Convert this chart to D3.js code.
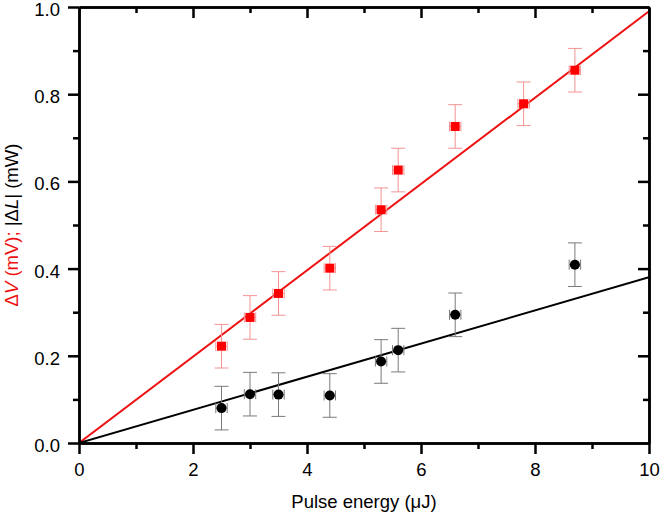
<!DOCTYPE html>
<html>
<head>
<meta charset="utf-8">
<script src="https://cdn.jsdelivr.net/npm/d3@7"></script>
<style>
  html, body { margin: 0; padding: 0; background: #fff; }
  svg { display: block; font-family: "Liberation Sans", Arial, Helvetica, sans-serif; }
</style>
</head>
<body>
<svg id="chart" width="660" height="513"></svg>
<script>
// ---- data ----
const pulseEnergy = [2.5, 3.0, 3.5, 4.4, 5.3, 5.6, 6.6, 7.8, 8.7];
const deltaV = [0.222, 0.288, 0.343, 0.401, 0.535, 0.626, 0.726, 0.778, 0.855];
const deltaVErr = [0.05, 0.05, 0.05, 0.05, 0.05, 0.05, 0.05, 0.05, 0.05];
const pulseEnergyL = [2.5, 3.0, 3.5, 4.4, 5.3, 5.6, 6.6, 8.7];
const deltaL = [0.080, 0.112, 0.111, 0.109, 0.187, 0.213, 0.294, 0.409];
const deltaLErr = [0.05, 0.05, 0.05, 0.05, 0.05, 0.05, 0.05, 0.05];
const energyErr = 0.1;
const fitX = [0, 10];
const fitV = [0, 0.99];
const fitL = [0, 0.38];
const xTicks = [0, 2, 4, 6, 8, 10];
const xMinorTicks = [1, 3, 5, 7, 9];
const yTicks = [0, 0.2, 0.4, 0.6, 0.8, 1.0];
const yMinorTicks = [0.1, 0.3, 0.5, 0.7, 0.9];

// ---- layout ----
const svg = d3.select("#chart");
const mLeft = 79, mRight = 649, mTop = 7, mBottom = 443;
const x = d3.scaleLinear().domain([0, 10]).range([mLeft, mRight]);
const y = d3.scaleLinear().domain([0, 1]).range([mBottom, mTop]);

const RED = "#ee1111";
const RED_ERR = "#f39393";
const GRAY_ERR = "#7a7a7a";
const FS = 18.5;

// clip
svg.append("defs").append("clipPath").attr("id", "clip")
  .append("rect").attr("x", mLeft).attr("y", mTop).attr("width", mRight - mLeft).attr("height", mBottom - mTop);

const plot = svg.append("g").attr("clip-path", "url(#clip)");

// fit lines
const line = d3.line().x(d => x(d[0])).y(d => y(d[1]));
plot.append("path").datum(fitX.map((v, i) => [v, fitV[i]]))
  .attr("d", line).attr("stroke", RED).attr("stroke-width", 2).attr("fill", "none");
plot.append("path").datum(fitX.map((v, i) => [v, fitL[i]]))
  .attr("d", line).attr("stroke", "#000").attr("stroke-width", 2).attr("fill", "none");

// error bars
function errorBars(xs, ys, es, color) {
  const g = svg.append("g").attr("stroke", color).attr("stroke-width", 1).attr("fill", "none");
  xs.forEach((xv, i) => {
    const cx = x(xv), cy = y(ys[i]);
    const y1 = y(ys[i] + es[i]), y2 = y(ys[i] - es[i]);
    const x1 = x(xv - energyErr), x2 = x(xv + energyErr);
    g.append("line").attr("x1", cx).attr("x2", cx).attr("y1", y1).attr("y2", y2);
    g.append("line").attr("x1", cx - 7).attr("x2", cx + 7).attr("y1", y1).attr("y2", y1);
    g.append("line").attr("x1", cx - 7).attr("x2", cx + 7).attr("y1", y2).attr("y2", y2);
    g.append("line").attr("x1", x1).attr("x2", x2).attr("y1", cy).attr("y2", cy);
    g.append("line").attr("x1", x1).attr("x2", x1).attr("y1", cy - 5).attr("y2", cy + 5);
    g.append("line").attr("x1", x2).attr("x2", x2).attr("y1", cy - 5).attr("y2", cy + 5);
  });
}
errorBars(pulseEnergy, deltaV, deltaVErr, RED_ERR);
errorBars(pulseEnergyL, deltaL, deltaLErr, GRAY_ERR);

// markers
svg.append("g").selectAll("rect").data(pulseEnergy).join("rect")
  .attr("x", (d) => x(d) - 4.5).attr("y", (d, i) => y(deltaV[i]) - 4.5)
  .attr("width", 9).attr("height", 9).attr("fill", "#ff0000");
svg.append("g").selectAll("circle").data(pulseEnergyL).join("circle")
  .attr("cx", d => x(d)).attr("cy", (d, i) => y(deltaL[i])).attr("r", 5).attr("fill", "#000");

// axes
function styleAxis(g) {
  g.select(".domain").attr("stroke", "#000").attr("stroke-width", 2.5);
  g.selectAll(".tick line").attr("stroke", "#000").attr("stroke-width", 2.5);
  g.selectAll(".tick text").attr("fill", "#000").attr("font-size", FS)
    .attr("font-family", "'Liberation Sans', Arial, sans-serif");
}
const MAJ = 11, MIN = 6;

// bottom
svg.append("g").attr("transform", `translate(0,${mBottom})`)
  .call(d3.axisBottom(x).tickValues(xMinorTicks).tickSize(MIN).tickFormat("").tickSizeOuter(0))
  .call(styleAxis);
svg.append("g").attr("transform", `translate(0,${mBottom})`)
  .call(d3.axisBottom(x).tickValues(xTicks).tickSize(MAJ).tickPadding(9).tickFormat(d3.format("d")).tickSizeOuter(0))
  .call(styleAxis);
// top (inward)
svg.append("g").attr("transform", `translate(0,${mTop})`)
  .call(d3.axisBottom(x).tickValues(xMinorTicks).tickSize(MIN).tickFormat("").tickSizeOuter(0))
  .call(styleAxis);
svg.append("g").attr("transform", `translate(0,${mTop})`)
  .call(d3.axisBottom(x).tickValues(xTicks.slice(1, -1)).tickSize(MAJ).tickFormat("").tickSizeOuter(0))
  .call(styleAxis);
// left
svg.append("g").attr("transform", `translate(${mLeft},0)`)
  .call(d3.axisLeft(y).tickValues(yMinorTicks).tickSize(MIN).tickFormat("").tickSizeOuter(0))
  .call(styleAxis);
svg.append("g").attr("transform", `translate(${mLeft},0)`)
  .call(d3.axisLeft(y).tickValues(yTicks).tickSize(MAJ).tickPadding(8).tickFormat(d3.format(".1f")).tickSizeOuter(0))
  .call(styleAxis)
  .call(g => g.selectAll(".tick text").attr("dy", "0.46em"));
// right (inward)
svg.append("g").attr("transform", `translate(${mRight},0)`)
  .call(d3.axisLeft(y).tickValues(yMinorTicks).tickSize(MIN).tickFormat("").tickSizeOuter(0))
  .call(styleAxis);
svg.append("g").attr("transform", `translate(${mRight},0)`)
  .call(d3.axisLeft(y).tickValues(yTicks.slice(1, -1)).tickSize(MAJ).tickFormat("").tickSizeOuter(0))
  .call(styleAxis);

// axis titles
svg.append("text").attr("x", (mLeft + mRight) / 2).attr("y", 508)
  .attr("text-anchor", "middle").attr("font-size", FS).attr("fill", "#000")
  .text("Pulse energy (\u03bcJ)");

const yt = svg.append("text")
  .attr("transform", `translate(18,${(mTop + mBottom) / 2}) rotate(-90)`)
  .attr("text-anchor", "middle").attr("font-size", FS);
yt.append("tspan").attr("fill", RED).text("\u0394");
yt.append("tspan").attr("fill", RED).attr("font-style", "italic").text("V");
yt.append("tspan").attr("fill", RED).text(" (mV);");
yt.append("tspan").attr("fill", "#000").text(" |\u0394");
yt.append("tspan").attr("fill", "#000").attr("font-style", "italic").text("L");
yt.append("tspan").attr("fill", "#000").text("| (mW)");
</script>
</body>
</html>
